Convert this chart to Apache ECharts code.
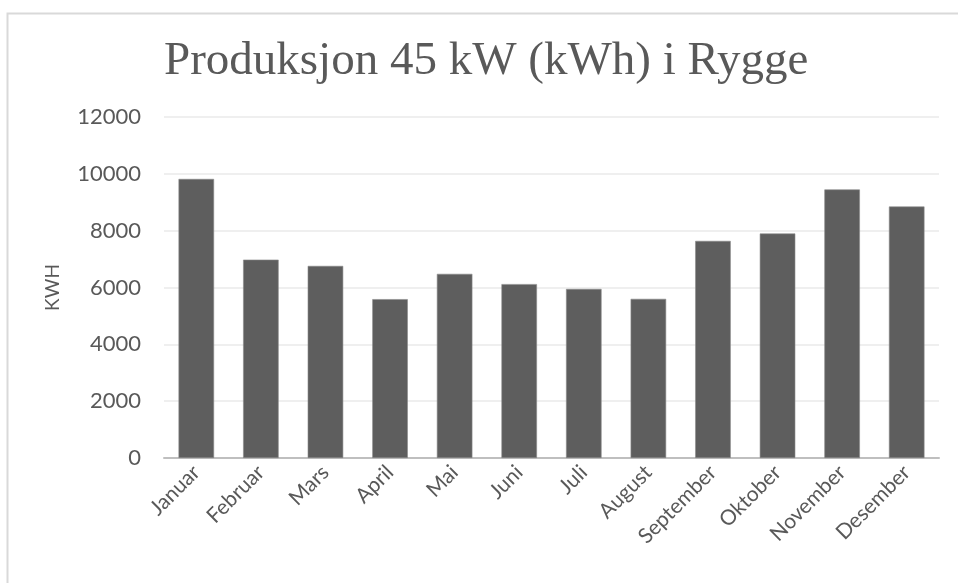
<!DOCTYPE html>
<html>
<head>
<meta charset="utf-8">
<script src="https://cdn.jsdelivr.net/npm/echarts@6/dist/echarts.min.js"></script>
<style>
  html, body { margin: 0; padding: 0; background: #fff; }
  #chart { width: 958px; height: 583px; }
</style>
</head>
<body>
<div id="chart"></div>
<script>
// måneder og produksjon (kWh)
const months = ['Januar', 'Februar', 'Mars', 'April', 'Mai', 'Juni',
  'Juli', 'August', 'September', 'Oktober', 'November', 'Desember'];
const production = [9820, 6980, 6760, 5590, 6480, 6120, 5950, 5600, 7640, 7900, 9450, 8850];
const yTicks = [0, 2000, 4000, 6000, 8000, 10000, 12000];

const chart = echarts.init(document.getElementById('chart'));
chart.setOption({
  animation: false,
  title: {
    text: 'Produksjon 45 kW (kWh) i Rygge',
    left: 159,
    top: 33,
    textStyle: {
      color: '#595959',
      fontFamily: 'Liberation Serif',
      fontSize: 47,
      fontWeight: 'normal'
    }
  },
  graphic: [{
    type: 'rect',
    shape: { x: 7.5, y: 13.5, width: 1000, height: 1000 },
    style: { fill: 'none', stroke: '#d9d9d9', lineWidth: 2 },
    silent: true
  }],
  grid: { left: 164, right: 19, top: 117, bottom: 125 },
  xAxis: {
    type: 'category',
    data: months,
    axisTick: { show: false },
    axisLine: { lineStyle: { color: '#bfbfbf', width: 2 } },
    axisLabel: {
      interval: 0,
      rotate: 45,
      margin: 11,
      color: '#595959',
      fontFamily: 'Lato',
      fontSize: 21
    }
  },
  yAxis: {
    type: 'value',
    min: yTicks[0],
    max: yTicks[yTicks.length - 1],
    interval: 2000,
    name: 'KWH',
    nameLocation: 'middle',
    nameGap: 102,
    nameTextStyle: { color: '#595959', fontFamily: 'Lato', fontSize: 19 },
    axisLine: { show: false },
    axisTick: { show: false },
    splitLine: { lineStyle: { color: '#efefef', width: 2 } },
    axisLabel: {
      margin: 23,
      color: '#595959',
      fontFamily: 'Lato',
      fontSize: 22,
      formatter: v => String(v)
    }
  },
  series: [{
    type: 'bar',
    data: production,
    barCategoryGap: '45%',
    itemStyle: { color: '#5e5e5e', borderColor: '#8a8a8a', borderWidth: 0.6 }
  }]
});
</script>
</body>
</html>
